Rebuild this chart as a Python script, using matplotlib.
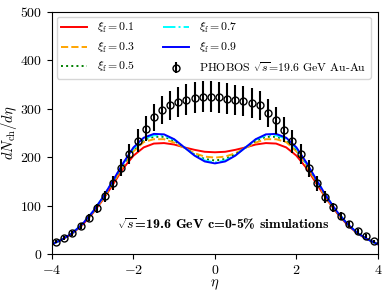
import matplotlib
matplotlib.use("Agg")
import matplotlib.pyplot as plt
import numpy as np

plt.rcParams['font.family'] = 'serif'
plt.rcParams['font.serif'] = ['cmr10']
plt.rcParams['mathtext.fontset'] = 'cm'
plt.rcParams['axes.formatter.use_mathtext'] = True

# PHOBOS data
eta_data = [-3.9, -3.7, -3.5, -3.3, -3.1, -2.9, -2.7, -2.5, -2.3, -2.1,
            -1.9, -1.7, -1.5, -1.3, -1.1, -0.9, -0.7, -0.5, -0.3, -0.1,
            0.1, 0.3, 0.5, 0.7, 0.9, 1.1, 1.3, 1.5, 1.7, 1.9,
            2.1, 2.3, 2.5, 2.7, 2.9, 3.1, 3.3, 3.5, 3.7, 3.9]
dn_data = [25, 33, 43, 57, 75, 94, 119, 147, 178, 207,
           234, 259, 282, 297, 307, 313, 319, 323, 325, 325,
           324, 321, 318, 315, 312, 307, 292, 276, 257, 233,
           206, 177, 146, 118, 96, 78, 62, 47, 37, 26]
dn_err = [3, 4, 5, 6, 8, 10, 12, 15, 18, 21,
          24, 26, 28, 29, 30, 31, 31, 32, 32, 32,
          32, 32, 31, 31, 31, 30, 29, 28, 26, 24,
          21, 18, 15, 12, 10, 8, 6, 5, 4, 3]

# Simulation curves
eta_sim = [-4.0, -3.75, -3.5, -3.25, -3.0, -2.75, -2.5, -2.25, -2.0, -1.75,
           -1.5, -1.25, -1.0, -0.75, -0.5, -0.25, 0.0, 0.25, 0.5, 0.75,
           1.0, 1.25, 1.5, 1.75, 2.0, 2.25, 2.5, 2.75, 3.0, 3.25,
           3.5, 3.75, 4.0]
xi_01 = [20, 30, 42, 60, 84, 112, 144, 177, 203, 220,
         228, 229, 226, 220, 215, 211, 210, 211, 215, 220,
         226, 229, 228, 220, 203, 177, 144, 112, 84, 60,
         42, 30, 20]
xi_03 = [20, 30, 42, 61, 85, 114, 147, 182, 212, 231,
         237, 237, 230, 219, 208, 201, 199, 201, 208, 219,
         230, 237, 237, 231, 212, 182, 147, 114, 85, 61,
         42, 30, 20]
xi_05 = [20, 30, 43, 62, 86, 116, 150, 185, 216, 236,
         242, 242, 234, 220, 205, 196, 193, 196, 205, 220,
         234, 242, 242, 236, 216, 185, 150, 116, 86, 62,
         43, 30, 20]
xi_07 = [20, 30, 43, 62, 87, 117, 151, 187, 218, 238,
         245, 245, 236, 220, 204, 193, 189, 193, 204, 220,
         236, 245, 245, 238, 218, 187, 151, 117, 87, 62,
         43, 30, 20]
xi_09 = [20, 30, 43, 62, 87, 117, 152, 188, 220, 240,
         248, 247, 237, 220, 203, 191, 187, 191, 203, 220,
         237, 247, 248, 240, 220, 188, 152, 117, 87, 62,
         43, 30, 20]

fig = plt.figure(figsize=(3.88, 2.97), dpi=100)
ax = fig.add_axes([0.134, 0.145, 0.840, 0.815])

lw = 1.4
ax.plot(eta_sim, xi_01, color='red', ls='-', lw=lw, label=r'$\xi_{\rm f}=0.1$')
ax.plot(eta_sim, xi_03, color='orange', ls='--', lw=lw, label=r'$\xi_{\rm f}=0.3$')
ax.plot(eta_sim, xi_05, color='green', ls=':', lw=lw, label=r'$\xi_{\rm f}=0.5$')
ax.plot(eta_sim, xi_07, color='cyan', ls='-.', lw=lw, label=r'$\xi_{\rm f}=0.7$')
ax.plot(eta_sim, xi_09, color='blue', ls='-', lw=lw, label=r'$\xi_{\rm f}=0.9$')
ax.errorbar(eta_data, dn_data, yerr=dn_err, fmt='o', mfc='none', mec='black',
            ecolor='black', color='black', ms=5, mew=1.0, elinewidth=1.5,
            label=r'PHOBOS $\sqrt{s}$=19.6 GeV Au-Au')

ax.set_xlim(-4, 4)
ax.set_ylim(0, 500)
ax.set_xticks([-4, -2, 0, 2, 4])
ax.set_yticks([0, 100, 200, 300, 400, 500])
ax.tick_params(labelsize=10, direction='out')
ax.set_xlabel(r'$\eta$', fontsize=10.5, labelpad=1)
ax.set_ylabel(r'$dN_{\rm ch}/d\eta$', fontsize=10.5, labelpad=1)

ax.text(-2.4, 62, r'$\sqrt{s}$=19.6 GeV c=0-5% simulations', fontname='cmb10',
        fontsize=10, va='center', ha='left')

ax.legend(loc='upper left', ncol=2, fontsize=8.5, frameon=True,
          handlelength=2.2, handletextpad=0.8, columnspacing=2.4,
          labelspacing=0.45, borderaxespad=0.4)

fig.savefig('out.png', dpi=100)
